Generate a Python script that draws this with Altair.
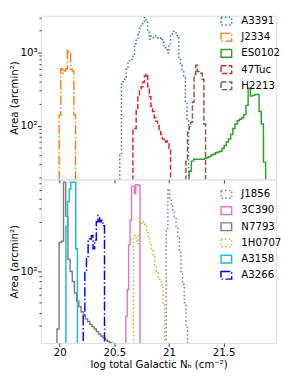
import altair as alt
import numpy as np
import pandas as pd

X_DOMAIN = [19.828, 21.982]
X_TICKS = [20, 20.5, 21, 21.5]
FLOOR = 1.0  # outline drops to zero (below the log axis)

# ---------------- top panel: (first bin edge, bin width, counts) ----------------
top_names = ["A3391", "J2334", "ES0102", "47Tuc", "H2213"]
top_colors = ["#1f77b4", "#ff7f0e", "#2ca02c", "#d62728", "#8c564b"]
top_styles = ["dotted", "dashdot", "solid", "dashed", "dashed"]

A3391_start, A3391_width = 20.55, 0.015
A3391_counts = [40, 370, 400, 450, 600, 735, 770, 800, 890, 1310, 1500, 1750, 2120,
                2400, 2580, 2980, 2700, 2020, 1515, 1670, 1600, 1670, 1600, 1590,
                1550, 1590, 1375, 1190, 1080, 980, 1250, 1750, 1930, 1840, 1840,
                1700, 810, 667, 550, 453, 210, 117]

J2334_start, J2334_width = 19.995, 0.015
J2334_counts = [140, 600, 520, 560, 600, 1080, 1000, 590, 560, 140]

ES0102_start, ES0102_width = 21.185, 0.02
ES0102_counts = [24, 33, 35, 35, 35, 35, 35, 36, 37, 38, 40, 41, 43, 44, 45, 49, 54,
                 60, 66, 76, 92, 106, 117, 123, 129, 142, 190, 324, 254, 260, 267,
                 267, 157, 106, 32]

T47Tuc_start, T47Tuc_width = 20.67, 0.015
T47Tuc_counts = [92, 92, 173, 254, 300, 340, 392, 476, 508, 340, 250, 185, 157, 129,
                 115, 101, 88, 76, 66, 60, 62, 57, 49]

H2213_start, H2213_width = 21.155, 0.015
H2213_counts = [33, 88, 97, 112, 210, 500, 667, 550, 524, 520, 432, 106]

# ---------------- bottom panel ----------------
bot_names = ["J1856", "3C390", "N7793", "1H0707", "A3158", "A3266"]
bot_colors = ["#9467bd", "#e377c2", "#7f7f7f", "#bcbd22", "#17becf", "#0000ff"]
bot_styles = ["dotted", "solid", "solid", "dotted", "solid", "dashdot"]

J1856_start, J1856_width = 20.975, 0.015
J1856_counts = [260, 620, 510, 440, 390, 330, 270, 210, 160, 100, 75, 50, 29]

C3C390_start, C3C390_width = 20.605, 0.013
C3C390_counts = [37, 67, 180, 310, 660, 660, 560, 680, 680, 670]

N7793_start, N7793_width = 19.975, 0.02
N7793_counts = [28, 190, 195, 720, 340, 130, 100, 80, 62, 52, 46, 41, 37, 35, 33, 31,
                29.5, 28, 26.5, 25, 24, 23, 22, 21.3, 20.8, 20.3]

H0707_start, H0707_width = 20.675, 0.015
H0707_counts = [220, 210, 185, 230, 290, 300, 295, 280, 235, 210, 185, 160, 140, 115,
                100, 88, 80, 75, 50]

A3158_start, A3158_width = 20.057, 0.015
A3158_counts = [270, 470, 620, 720, 720, 720, 165]

A3266_start, A3266_width = 20.215, 0.015
A3266_counts = [37, 100, 135, 195, 205, 220, 165, 200, 300, 345, 300, 310, 275]

DASHES = {"solid": [1, 0], "dotted": [1.5, 2.5], "dashed": [5.5, 2.4],
          "dashdot": [9.6, 2.4, 1.5, 2.4]}


def outline(name, start, width, counts):
    edges = start + width * np.arange(len(counts) + 1)
    pts = [(edges[0], FLOOR)]
    for i, c in enumerate(counts):
        pts.append((edges[i], c))
        pts.append((edges[i + 1], c))
    pts.append((edges[-1], FLOOR))
    return pd.DataFrame({"series": name, "x": [p[0] for p in pts],
                         "y": [p[1] for p in pts], "i": range(len(pts))})


top_df = pd.concat([
    outline("A3391", A3391_start, A3391_width, A3391_counts),
    outline("J2334", J2334_start, J2334_width, J2334_counts),
    outline("ES0102", ES0102_start, ES0102_width, ES0102_counts),
    outline("47Tuc", T47Tuc_start, T47Tuc_width, T47Tuc_counts),
    outline("H2213", H2213_start, H2213_width, H2213_counts),
])
bot_df = pd.concat([
    outline("J1856", J1856_start, J1856_width, J1856_counts),
    outline("3C390", C3C390_start, C3C390_width, C3C390_counts),
    outline("N7793", N7793_start, N7793_width, N7793_counts),
    outline("1H0707", H0707_start, H0707_width, H0707_counts),
    outline("A3158", A3158_start, A3158_width, A3158_counts),
    outline("A3266", A3266_start, A3266_width, A3266_counts),
])

TOP_YDOM = [18.6, 3160]
TOP_YVALS = [20, 30, 40, 50, 60, 70, 80, 90, 100, 200, 300, 400, 500, 600, 700,
             800, 900, 1000, 2000, 3000]
BOT_YDOM = [20.5, 766]
BOT_YVALS = [30, 40, 50, 60, 70, 80, 90, 100, 200, 300, 400, 500, 600, 700]
MAJOR_TEST = "datum.value == 100 || datum.value == 1000"

FONT = "DejaVu Sans"
FS = 10.5


def panel(df, names, colors, styles, ydom, yvals, height, bottom, legend_y):
    legend = alt.Legend(title=None, orient="none", legendX=185, legendY=legend_y,
                        symbolType="M-1,-0.727H1V0.727H-1Z", symbolSize=121,
                        symbolStrokeWidth=1.5, symbolFillColor="transparent",
                        labelFont=FONT, labelFontSize=FS, labelColor="black",
                        labelOffset=9, rowPadding=1.7, padding=0)
    if bottom:
        xaxis = alt.Axis(values=X_TICKS, format=".1~f", title="log total Galactic Nₕ (cm⁻²)",
                         grid=False, domain=False, tickSize=3.5, tickWidth=0.8,
                         tickColor="black", labelColor="black", labelFont=FONT,
                         labelFontSize=FS, labelPadding=1, titleFont=FONT,
                         titleFontSize=FS, titleFontWeight="normal", titleColor="black",
                         titlePadding=2)
    else:
        xaxis = alt.Axis(values=X_TICKS, labels=False, title=None, grid=False,
                         domain=False, tickSize=3.5, tickWidth=0.8, tickColor="black")
    yaxis = alt.Axis(values=yvals, title="Area (arcmin²)",
                     labelExpr="datum.value == 1000 ? '10³' : (datum.value == 100 ? '10²' : '')",
                     labelFontSize={"condition": {"test": MAJOR_TEST, "value": FS}, "value": 0},
                     labelOverlap=False, grid=False, domain=False,
                     tickSize={"condition": {"test": MAJOR_TEST, "value": 3.5}, "value": 2},
                     tickWidth=0.8, tickColor="black", labelColor="black",
                     labelFont=FONT, labelPadding=0.5,
                     titleFont=FONT, titleFontSize=FS, titleFontWeight="normal",
                     titleColor="black", titlePadding=1)
    return alt.Chart(df).mark_line(strokeWidth=1.5, clip=True).encode(
        x=alt.X("x:Q", scale=alt.Scale(domain=X_DOMAIN, nice=False, zero=False), axis=xaxis),
        y=alt.Y("y:Q", scale=alt.Scale(type="log", domain=ydom, nice=False), axis=yaxis),
        color=alt.Color("series:N", scale=alt.Scale(domain=names, range=colors), legend=legend),
        strokeDash=alt.StrokeDash("series:N",
                                  scale=alt.Scale(domain=names, range=[DASHES[s] for s in styles]),
                                  legend=legend),
        order=alt.Order("i:Q"),
    ).properties(width=243, height=height)


top = panel(top_df, top_names, top_colors, top_styles, TOP_YDOM, TOP_YVALS, 169, False, -1)
bot = panel(bot_df, bot_names, bot_colors, bot_styles, BOT_YDOM, BOT_YVALS, 169, True, 9)

chart = alt.vconcat(top, bot, spacing=0, bounds="flush", padding=0).resolve_scale(
    color="independent", strokeDash="independent", y="independent"
).resolve_legend(color="independent", strokeDash="independent").configure_view(
    stroke="black", strokeWidth=0.8
).configure(font=FONT, padding=0)

chart.save("out.html", embed_options={"renderer": "svg", "actions": False})
